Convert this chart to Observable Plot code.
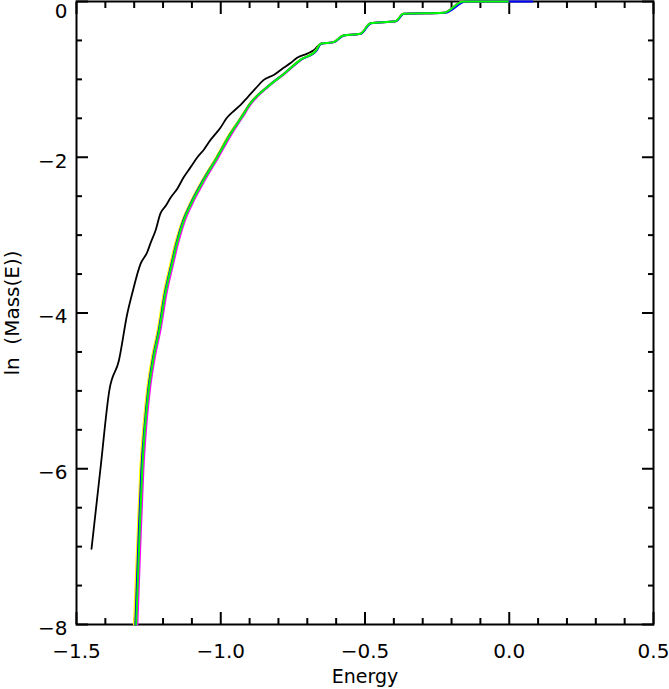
<!DOCTYPE html>
<html>
<head>
<meta charset="utf-8">
<script src="https://cdn.jsdelivr.net/npm/d3@7"></script>
<script src="https://cdn.jsdelivr.net/npm/@observablehq/plot@0.6"></script>
<style>
  html, body { margin: 0; padding: 0; background: white; }
</style>
</head>
<body>
<div id="chart"></div>
<script>
// Tick values
const xMajor = [-1.5, -1.0, -0.5, 0.0, 0.5];
const xMinor = [-1.4, -1.3, -1.2, -1.1, -0.9, -0.8, -0.7, -0.6, -0.4, -0.3, -0.2, -0.1, 0.1, 0.2, 0.3, 0.4];
const yMajorLow = [-8, -6, -4, -2];
const yMajorTop = [0];
const yMajor = [-8, -6, -4, -2, 0];
const yMinor = [-7.5, -7, -6.5, -5.5, -5, -4.5, -3.5, -3, -2.5, -1.5, -1, -0.5];

// Black series
const blackX = [-1.448, -1.417, -1.386, -1.353, -1.324, -1.307, -1.278, -1.255, -1.243, -1.226, -1.209, -1.190, -1.174, -1.150, -1.129, -1.105, -1.081, -1.058, -1.036, -1.018, -1.001, -0.980, -0.959, -0.932, -0.907, -0.880, -0.852, -0.815, -0.782, -0.758, -0.734, -0.700, -0.679, -0.654, -0.609, -0.575, -0.516, -0.481, -0.394, -0.367, -0.228, -0.159, 0.0];
const blackY = [-7.03, -6.0, -4.99, -4.61, -4.01, -3.75, -3.37, -3.22, -3.10, -2.94, -2.72, -2.62, -2.52, -2.40, -2.26, -2.13, -2.00, -1.90, -1.78, -1.70, -1.62, -1.50, -1.42, -1.33, -1.23, -1.12, -1.01, -0.94, -0.85, -0.79, -0.72, -0.67, -0.63, -0.543, -0.522, -0.436, -0.415, -0.279, -0.253, -0.158, -0.145, 0, 0];

// Coloured series share these y values
const colourY = [-8, -7.0, -6.0, -5.45, -5.0, -4.6, -4.2, -3.75, -3.42, -3.08, -2.81, -2.60, -2.30, -2.00, -1.70, -1.50, -1.31, -1.10, -0.93, -0.75, -0.63, -0.543, -0.522, -0.436, -0.415, -0.279, -0.253, -0.158, -0.145, 0, 0];
const yellowX = [-1.301, -1.290, -1.279, -1.268, -1.256, -1.240, -1.218, -1.198, -1.178, -1.156, -1.133, -1.108, -1.065, -1.016, -0.970, -0.933, -0.900, -0.841, -0.783, -0.725, -0.671, -0.654, -0.609, -0.575, -0.516, -0.481, -0.394, -0.367, -0.228, -0.159, 0.0];
const magentaX = [-1.289, -1.279, -1.268, -1.258, -1.246, -1.230, -1.208, -1.188, -1.168, -1.146, -1.124, -1.099, -1.056, -1.008, -0.962, -0.927, -0.894, -0.837, -0.779, -0.722, -0.669, -0.654, -0.609, -0.575, -0.516, -0.481, -0.394, -0.367, -0.228, -0.159, -0.01];
const blueX = [-1.296, -1.286, -1.275, -1.264, -1.252, -1.236, -1.214, -1.194, -1.174, -1.152, -1.130, -1.105, -1.062, -1.013, -0.967, -0.931, -0.898, -0.840, -0.782, -0.723, -0.668, -0.652, -0.607, -0.573, -0.514, -0.479, -0.392, -0.365, -0.222, -0.150, 0.08];
const greenX = [-1.293, -1.283, -1.272, -1.262, -1.250, -1.234, -1.212, -1.192, -1.172, -1.150, -1.128, -1.103, -1.060, -1.012, -0.966, -0.930, -0.897, -0.839, -0.781, -0.724, -0.670, -0.654, -0.609, -0.575, -0.516, -0.481, -0.394, -0.367, -0.228, -0.159, -0.005];

const seriesList = [
  {xs: blackX, ys: blackY, color: "#000000", w: 1.8},
  {xs: yellowX, ys: colourY, color: "#ffff00", w: 2},
  {xs: magentaX, ys: colourY, color: "#ff00ff", w: 2},
  {xs: blueX, ys: colourY, color: "#0000ff", w: 2},
  {xs: greenX, ys: colourY, color: "#00ff00", w: 2}
];

const fmtX = d => (d < 0 ? "\u2212" : "") + Math.abs(d).toFixed(1);
const fmtY = d => (d < 0 ? "\u2212" : "") + Math.abs(d).toFixed(0);

const lineMarks = seriesList.map(s =>
  Plot.line(s.xs.map((x, i) => ({x, y: s.ys[i]})), {x: "x", y: "y", stroke: s.color, strokeWidth: s.w, strokeLinejoin: "round", curve: "monotone-x"})
);

const chart = Plot.plot({
  width: 669,
  height: 689,
  marginLeft: 76,
  marginRight: 16,
  marginTop: 1,
  marginBottom: 65,
  style: {fontFamily: "DejaVu Sans", fontSize: "20px", background: "white", color: "black", overflow: "visible"},
  x: {domain: [-1.5, 0.5]},
  y: {domain: [-8, 0]},
  marks: [
    Plot.frame({stroke: "black", strokeWidth: 2}),
    // bottom
    Plot.axisX({anchor: "bottom", ticks: xMajor, tickSize: -12, tickPadding: 31, tickFormat: fmtX, strokeWidth: 2, fontSize: 20, label: null}),
    Plot.axisX({anchor: "bottom", ticks: xMinor, tickSize: -6, tickFormat: () => "", strokeWidth: 2, label: null}),
    // top
    Plot.axisX({anchor: "top", ticks: xMajor, tickSize: -12, tickFormat: () => "", strokeWidth: 2, label: null}),
    Plot.axisX({anchor: "top", ticks: xMinor, tickSize: -6, tickFormat: () => "", strokeWidth: 2, label: null}),
    // left
    Plot.axisY({anchor: "left", ticks: yMajor, tickSize: -12, tickFormat: () => "", strokeWidth: 2, label: null}),
    Plot.axisY({anchor: "left", ticks: yMajorLow, tickSize: 0, tickPadding: 9, tickFormat: fmtY, dy: 4, fontSize: 20, label: null}),
    Plot.axisY({anchor: "left", ticks: yMajorTop, tickSize: 0, tickPadding: 9, tickFormat: fmtY, dy: 10, fontSize: 20, label: null}),
    Plot.axisY({anchor: "left", ticks: yMinor, tickSize: -6, tickFormat: () => "", strokeWidth: 2, label: null}),
    // right
    Plot.axisY({anchor: "right", ticks: yMajor, tickSize: -12, tickFormat: () => "", strokeWidth: 2, label: null}),
    Plot.axisY({anchor: "right", ticks: yMinor, tickSize: -6, tickFormat: () => "", strokeWidth: 2, label: null}),
    ...lineMarks,
    Plot.text(["Energy"], {frameAnchor: "bottom", dy: 52, lineAnchor: "middle", textAnchor: "middle", fontSize: 19}),
    Plot.text(["ln  (Mass(E))"], {frameAnchor: "left", dx: -64, rotate: -90, lineAnchor: "middle", textAnchor: "middle", fontSize: 20})
  ]
});
document.getElementById("chart").appendChild(chart);
</script>
</body>
</html>
